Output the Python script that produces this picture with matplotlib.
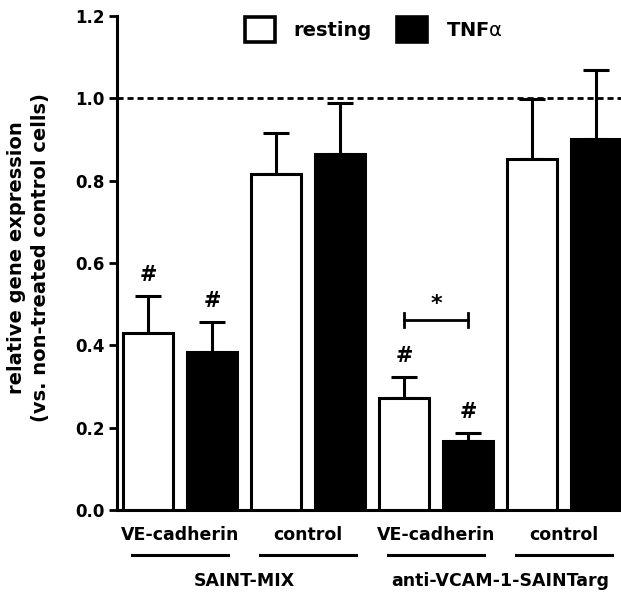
import matplotlib
matplotlib.use("Agg")
import matplotlib.pyplot as plt
from matplotlib.patches import Patch
import matplotlib.transforms as mtransforms
import numpy as np

plt.rcParams['font.family'] = ['DejaVu Sans']
plt.rcParams['font.weight'] = 'bold'
plt.rcParams['mathtext.fontset'] = 'custom'
plt.rcParams['mathtext.rm'] = 'DejaVu Sans:weight=normal'

# ---- data ----
groups = ["SAINT-MIX", "anti-VCAM-1-SAINTarg"]
categories = ["VE-cadherin", "control", "VE-cadherin", "control"]
series = ["resting", "TNF$\\mathrm{α}$"]
resting_mean = [0.43, 0.817, 0.272, 0.853]
resting_err = [0.09, 0.099, 0.051, 0.146]
tnf_mean = [0.384, 0.864, 0.168, 0.901]
tnf_err = [0.072, 0.125, 0.019, 0.167]
resting_sig = ["#", "", "#", ""]
tnf_sig = ["#", "", "#", ""]
pair_sig = ["", "", "*", ""]
yticks = [0.0, 0.2, 0.4, 0.6, 0.8, 1.0, 1.2]
ref_level = 1.0

fig = plt.figure(figsize=(6.21, 5.94), dpi=100)
ax = fig.add_axes([117/621, 1-510/594, 1-117/621, (510-16)/594])

n = len(categories)
xr = np.arange(n) * 2
xt = xr + 1
w = 0.78
lw = 2.2

ax.bar(xr, resting_mean, width=w, color="white", edgecolor="black", linewidth=lw, zorder=3)
ax.bar(xt, tnf_mean, width=w, color="black", edgecolor="black", linewidth=lw, zorder=3)
ax.errorbar(xr, resting_mean, yerr=[np.zeros(n), resting_err], fmt="none", ecolor="black",
            elinewidth=lw, capsize=9.5, capthick=lw, zorder=2)
ax.errorbar(xt, tnf_mean, yerr=[np.zeros(n), tnf_err], fmt="none", ecolor="black",
            elinewidth=lw, capsize=9.5, capthick=lw, zorder=2)

ax.axhline(ref_level, color="black", lw=2.0, linestyle=(0, (2.2, 1.4)), zorder=1)

for i in range(n):
    if resting_sig[i]:
        ax.annotate(resting_sig[i], (xr[i], resting_mean[i] + resting_err[i]), xytext=(0, 15),
                    textcoords="offset points", ha="center", va="center", fontsize=15, fontweight="bold")
    if tnf_sig[i]:
        ax.annotate(tnf_sig[i], (xt[i], tnf_mean[i] + tnf_err[i]), xytext=(0, 15),
                    textcoords="offset points", ha="center", va="center", fontsize=15, fontweight="bold")
    if pair_sig[i]:
        top = max(resting_mean[i] + resting_err[i], tnf_mean[i] + tnf_err[i])
        yb = top + 0.138
        ax.plot([xr[i], xt[i]], [yb, yb], color="black", lw=2.0, clip_on=False)
        for xx in (xr[i], xt[i]):
            ax.plot([xx, xx], [yb - 0.017, yb + 0.017], color="black", lw=2.0)
        ax.text((xr[i] + xt[i]) / 2, yb + 0.015, pair_sig[i], ha="center", va="bottom", fontsize=16)

ax.set_ylim(0, 1.2)
ax.set_xlim(-0.484, 7.385)
ax.set_yticks(yticks)
ax.set_yticklabels([f"{v:.1f}" for v in yticks], fontsize=12, fontweight="bold")
ax.tick_params(axis="y", direction="out", length=6, width=2, pad=3)
ax.set_xticks([])
for s in ("top", "right"):
    ax.spines[s].set_visible(False)
ax.spines["left"].set_linewidth(2.2)
ax.spines["bottom"].set_linewidth(2.2)

ax.set_ylabel("relative gene expression\n(vs. non-treated control cells)", fontsize=14,
              fontweight="bold", linespacing=1.3)
ax.yaxis.set_label_coords(-0.133, 0.51)

trans = mtransforms.blended_transform_factory(ax.transData, ax.transAxes)
centers = (xr + xt) / 2
for c, lab in zip(centers, categories):
    ax.text(c, -0.05, lab, transform=trans, ha="center", va="center", fontsize=12.5, fontweight="bold")
    ax.plot([c - 0.75, c + 0.75], [-0.091, -0.091], transform=trans, color="black", lw=2.2, clip_on=False)
for gi, g in enumerate(groups):
    gc = centers[2*gi:2*gi+2].mean()
    ax.text(gc, -0.144, g, transform=trans, ha="center", va="center", fontsize=12.5, fontweight="bold")

handles = [Patch(facecolor="white", edgecolor="black", linewidth=2.6),
           Patch(facecolor="black", edgecolor="black", linewidth=2.6)]
leg = ax.legend(handles, series, loc="center", bbox_to_anchor=(0.51, 0.972), ncol=2, frameon=False,
                prop={"size": 14, "weight": "bold"}, handlelength=1.55, handleheight=1.6,
                handletextpad=0.95, columnspacing=1.3)

fig.savefig("out.png", dpi=100)
